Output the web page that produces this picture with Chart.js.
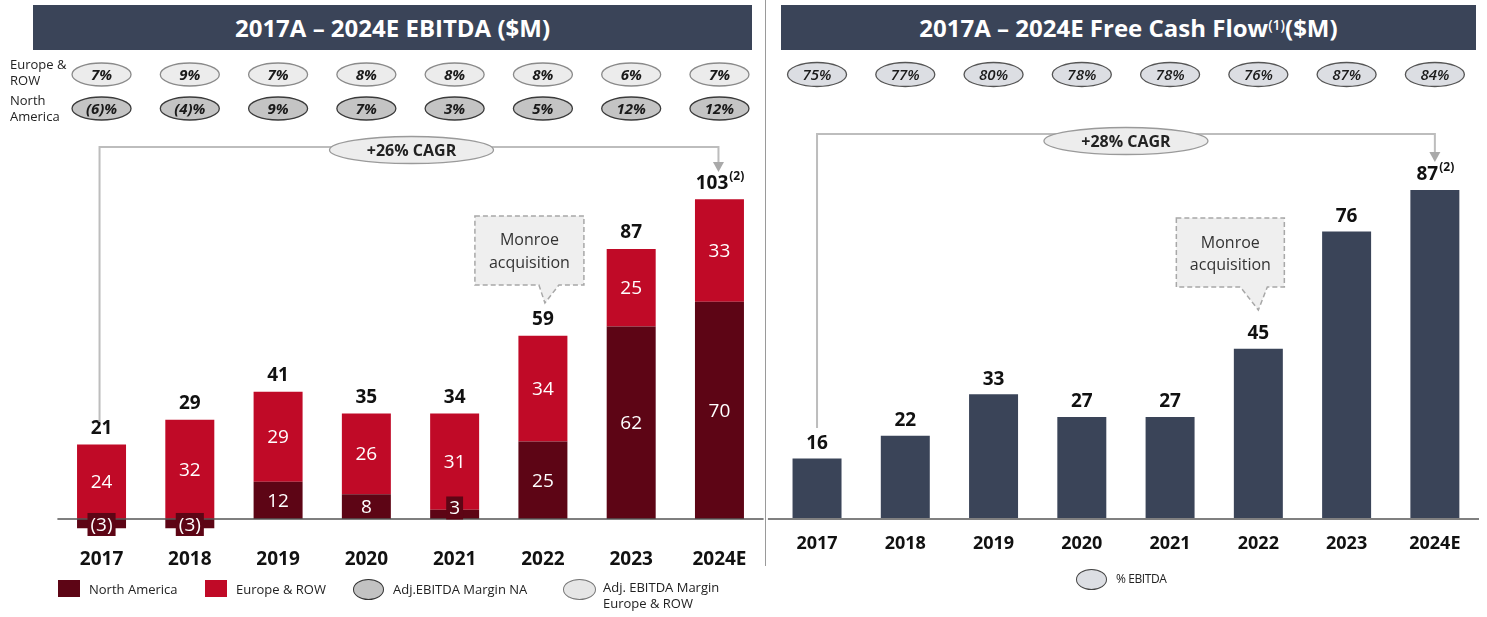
<!DOCTYPE html>
<html lang="en">
<head>
<meta charset="UTF-8">
<title>EBITDA and Free Cash Flow 2017A - 2024E</title>
<script src="https://cdn.jsdelivr.net/npm/chart.js@4.4.0/dist/chart.umd.min.js"></script>
<style>
  body { margin: 0; background: #fff; font-family: 'Open Sans', sans-serif; }
  #page { position: relative; width: 1487px; height: 617px; overflow: hidden; }
  canvas { position: absolute; top: 0; }
  .hdr { position: absolute; top: 5px; height: 45px; background: #3a4458; color: #fff;
         font-weight: 700; font-size: 24px; display: flex; align-items: center; justify-content: center; }
  .hdr sup { font-size: 14px; font-weight: 600; position: relative; top: -3px; }
  .divider { position: absolute; left: 765px; top: 0; width: 1px; height: 566px; background: #9a9a9a; }
  .lbl { position: absolute; font-size: 13px; color: #222; line-height: 16px; }
  .sw { position: absolute; width: 22px; height: 17px; }
  .ell { position: absolute; border-radius: 50%; box-sizing: border-box; }
</style>
</head>
<body>
<div id="page">
  <canvas id="ebitda" width="765" height="617" style="left:0"></canvas>
  <canvas id="fcf" width="722" height="617" style="left:765px"></canvas>

  <div class="hdr" style="left:33px; width:719px">2017A – 2024E EBITDA ($M)</div>
  <div class="hdr" style="left:781px; width:695px">2017A – 2024E Free Cash Flow<sup>(1)</sup>($M)</div>
  <div class="divider"></div>

  <div class="lbl" style="left:10px; top:56px">Europe &amp;<br>ROW</div>
  <div class="lbl" style="left:10px; top:92px">North<br>America</div>

  <!-- legend left -->
  <div class="sw" style="left:58px; top:580px; background:#5d0515"></div>
  <div class="lbl" style="left:89px; top:581px">North America</div>
  <div class="sw" style="left:205px; top:580px; background:#c00a27"></div>
  <div class="lbl" style="left:236px; top:581px">Europe &amp; ROW</div>
  <div class="ell" style="left:353px; top:579px; width:31px; height:21px; background:#c2c2c2; border:1.5px solid #333"></div>
  <div class="lbl" style="left:393px; top:581px">Adj.EBITDA Margin NA</div>
  <div class="ell" style="left:563px; top:579px; width:33px; height:21px; background:#e6e6e6; border:1.5px solid #777"></div>
  <div class="lbl" style="left:603px; top:579px">Adj. EBITDA Margin<br>Europe &amp; ROW</div>

  <!-- legend right -->
  <div class="ell" style="left:1076px; top:569px; width:31px; height:21px; background:#dcdee3; border:1.5px solid #444"></div>
  <div class="lbl" style="left:1116px; top:571px; font-size:12px; letter-spacing:-0.4px">% EBITDA</div>
</div>

<script>
// ---- data ----
const years = ['2017', '2018', '2019', '2020', '2021', '2022', '2023', '2024E'];
const naEbitda = [-3, -3, 12, 8, 3, 25, 62, 70];
const euEbitda = [24, 32, 29, 26, 31, 34, 25, 33];
const totalEbitda = ['21', '29', '41', '35', '34', '59', '87', '103'];
const marginEu = ['7%', '9%', '7%', '8%', '8%', '8%', '6%', '7%'];
const marginNa = ['(6)%', '(4)%', '9%', '7%', '3%', '5%', '12%', '12%'];
const fcf = [16, 22, 33, 27, 27, 45, 76, 87];
const fcfPct = ['75%', '77%', '80%', '78%', '78%', '76%', '87%', '84%'];
const footnotes = ['', '', '', '', '', '', '', '(2)'];

const naColor = '#5d0515';
const euColor = '#c00a27';
const fcfColor = '#3a4458';
const openSans = "'Open Sans', sans-serif";

// ---- drawing helpers ----
function ellipse(ctx, cx, cy, rx, ry, fill, stroke) {
  ctx.beginPath();
  ctx.ellipse(cx, cy, rx, ry, 0, 0, Math.PI * 2);
  ctx.fillStyle = fill;
  ctx.fill();
  ctx.lineWidth = 1.3;
  ctx.strokeStyle = stroke;
  ctx.stroke();
}

function labelWithNote(ctx, txt, note, x, y, font, noteFont) {
  ctx.font = font;
  const w1 = ctx.measureText(txt).width;
  ctx.font = noteFont;
  const w2 = note ? ctx.measureText(note).width : 0;
  const left = x - (w1 + w2) / 2;
  ctx.textAlign = 'left';
  ctx.fillStyle = '#111';
  ctx.font = font;
  ctx.fillText(txt, left, y);
  if (note) {
    ctx.font = noteFont;
    ctx.fillText(note, left + w1 + 1, y - 7);
  }
  ctx.textAlign = 'center';
}

function callout(ctx, x0, x1, y0, y1, b0, b1, tx, ty, lines, ly, font) {
  ctx.save();
  ctx.beginPath();
  ctx.moveTo(x0, y0); ctx.lineTo(x1, y0); ctx.lineTo(x1, y1);
  ctx.lineTo(b1, y1); ctx.lineTo(tx, ty); ctx.lineTo(b0, y1);
  ctx.lineTo(x0, y1); ctx.closePath();
  ctx.fillStyle = '#efefef';
  ctx.fill();
  ctx.setLineDash([5, 3]);
  ctx.lineWidth = 1.5;
  ctx.strokeStyle = '#a8a8a8';
  ctx.stroke();
  ctx.restore();
  ctx.fillStyle = '#333';
  ctx.font = font;
  ctx.textAlign = 'center';
  ctx.textBaseline = 'middle';
  lines.forEach((l, i) => ctx.fillText(l, (x0 + x1) / 2, ly[i]));
}

function cagr(ctx, xa, xb, yStart, yLine, yTip, cx, cy, text) {
  ctx.strokeStyle = '#bdbdbd';
  ctx.lineWidth = 2;
  ctx.beginPath();
  ctx.moveTo(xa, yStart); ctx.lineTo(xa, yLine); ctx.lineTo(xb, yLine); ctx.lineTo(xb, yTip - 9);
  ctx.stroke();
  ctx.fillStyle = '#a9a9a9';
  ctx.beginPath();
  ctx.moveTo(xb - 5.5, yTip - 10); ctx.lineTo(xb + 5.5, yTip - 10); ctx.lineTo(xb, yTip);
  ctx.closePath();
  ctx.fill();
  ellipse(ctx, cx, cy, 82, 13.5, '#ededed', '#9a9a9a');
  ctx.fillStyle = '#222';
  ctx.font = '700 16px ' + openSans;
  ctx.textAlign = 'center';
  ctx.textBaseline = 'middle';
  ctx.fillText(text, cx, cy + 1);
}

// ---- EBITDA chart decorations ----
const ebitdaDeco = {
  id: 'ebitdaDeco',
  afterDatasetsDraw(chart) {
    const ctx = chart.ctx, xs = chart.scales.x, ys = chart.scales.y, a = chart.chartArea;
    ctx.save();
    ctx.textAlign = 'center';
    ctx.textBaseline = 'middle';

    // zero line
    const y0 = ys.getPixelForValue(0);
    ctx.strokeStyle = '#555';
    ctx.lineWidth = 1.5;
    ctx.beginPath(); ctx.moveTo(a.left, y0); ctx.lineTo(a.right, y0); ctx.stroke();

    // segment labels
    [0, 1].forEach(d => {
      chart.getDatasetMeta(d).data.forEach((bar, i) => {
        const v = chart.data.datasets[d].data[i];
        const txt = v < 0 ? '(' + (-v) + ')' : String(v);
        ctx.font = '19px ' + openSans;
        let cy = (bar.y + bar.base) / 2;
        if (Math.abs(v) < 6) {
          cy = v > 0 ? bar.base - 11 : bar.base + 5.5;
          const w = ctx.measureText(txt).width + 6;
          ctx.fillStyle = naColor;
          ctx.fillRect(bar.x - w / 2, cy - 11.5, w, 23);
        }
        ctx.fillStyle = '#fff';
        ctx.fillText(txt, bar.x, cy + 1);
      });
    });

    // totals above bars
    years.forEach((yr, i) => {
      const top = ys.getPixelForValue(euEbitda[i] + Math.max(naEbitda[i], 0));
      labelWithNote(ctx, totalEbitda[i], footnotes[i], xs.getPixelForValue(i), top - 16,
        '700 19px ' + openSans, '700 12px ' + openSans);
    });

    // margin ellipses
    years.forEach((yr, i) => {
      const cx = xs.getPixelForValue(i);
      ellipse(ctx, cx, 74.5, 29.5, 11.5, '#ececec', '#8a8a8a');
      ellipse(ctx, cx, 108.5, 29.5, 11.5, '#c4c4c4', '#3a3a3a');
      ctx.fillStyle = '#1a1a1a';
      ctx.font = 'italic 700 15px ' + openSans;
      ctx.fillText(marginEu[i], cx, 75.5);
      ctx.fillText(marginNa[i], cx, 109.5);
    });

    // CAGR connector
    cagr(ctx, xs.getPixelForValue(0) - 2, xs.getPixelForValue(7) - 1, 422, 147, 172,
      (a.left + a.right) / 2 + 1, 150, '+26% CAGR');

    // Monroe callout
    const c5 = xs.getPixelForValue(5);
    callout(ctx, c5 - 68, c5 + 41, 216, 285, c5 - 4, c5 + 16, c5 + 2, 303,
      ['Monroe', 'acquisition'], [240, 263], '16px ' + openSans);
    ctx.restore();
  }
};

// ---- FCF chart decorations ----
const fcfDeco = {
  id: 'fcfDeco',
  afterDatasetsDraw(chart) {
    const ctx = chart.ctx, xs = chart.scales.x, ys = chart.scales.y, a = chart.chartArea;
    ctx.save();
    ctx.textAlign = 'center';
    ctx.textBaseline = 'middle';

    const y0 = ys.getPixelForValue(0);
    ctx.strokeStyle = '#808080';
    ctx.lineWidth = 2;
    ctx.beginPath(); ctx.moveTo(a.left - 5, y0); ctx.lineTo(a.right, y0); ctx.stroke();

    chart.getDatasetMeta(0).data.forEach((bar, i) => {
      labelWithNote(ctx, String(fcf[i]), footnotes[i], bar.x, bar.y - 15,
        '700 19px ' + openSans, '700 12px ' + openSans);
    });

    years.forEach((yr, i) => {
      const cx = xs.getPixelForValue(i);
      ellipse(ctx, cx, 74.5, 29.5, 12, '#dcdee3', '#555');
      ctx.fillStyle = '#1a1a1a';
      ctx.font = 'italic 600 15px ' + openSans;
      ctx.fillText(fcfPct[i], cx, 75.5);
    });

    cagr(ctx, xs.getPixelForValue(0), xs.getPixelForValue(7), 428, 134, 162,
      (a.left + a.right) / 2, 141, '+28% CAGR');

    const c5 = xs.getPixelForValue(5);
    callout(ctx, c5 - 82, c5 + 26, 218, 287, c5 - 18, c5 + 9, c5, 310,
      ['Monroe', 'acquisition'], [243, 265], '16px ' + openSans);
    ctx.restore();
  }
};

Chart.defaults.font.family = openSans;

new Chart(document.getElementById('ebitda'), {
  type: 'bar',
  data: {
    labels: years,
    datasets: [
      { label: 'North America', data: naEbitda, backgroundColor: naColor },
      { label: 'Europe & ROW', data: euEbitda, backgroundColor: euColor }
    ]
  },
  options: {
    responsive: false,
    animation: false,
    layout: { padding: { left: 57.4, right: 1.4, top: 162, bottom: 45.6 } },
    datasets: { bar: { categoryPercentage: 1, barPercentage: 0.555 } },
    scales: {
      x: {
        stacked: true,
        grid: { display: false },
        border: { display: false },
        ticks: { color: '#111', font: { size: 19, weight: '700' }, padding: 9 },
        afterFit: s => { s.height = 40; }
      },
      y: { stacked: true, display: false, min: -4, max: 115 }
    },
    plugins: { legend: { display: false }, tooltip: { enabled: false } }
  },
  plugins: [ebitdaDeco]
});

new Chart(document.getElementById('fcf'), {
  type: 'bar',
  data: {
    labels: years,
    datasets: [{ label: 'Free Cash Flow', data: fcf, backgroundColor: fcfColor }]
  },
  options: {
    responsive: false,
    animation: false,
    layout: { padding: { left: 7.9, right: 8, top: 162, bottom: 52.3 } },
    datasets: { bar: { categoryPercentage: 1, barPercentage: 0.555 } },
    scales: {
      x: {
        grid: { display: false },
        border: { display: false },
        ticks: { color: '#111', font: { size: 18, weight: '700' }, padding: 0 },
        afterFit: s => { s.height = 40; }
      },
      y: { display: false, min: -1.5, max: 94.4 }
    },
    plugins: { legend: { display: false }, tooltip: { enabled: false } }
  },
  plugins: [fcfDeco]
});
</script>
</body>
</html>
